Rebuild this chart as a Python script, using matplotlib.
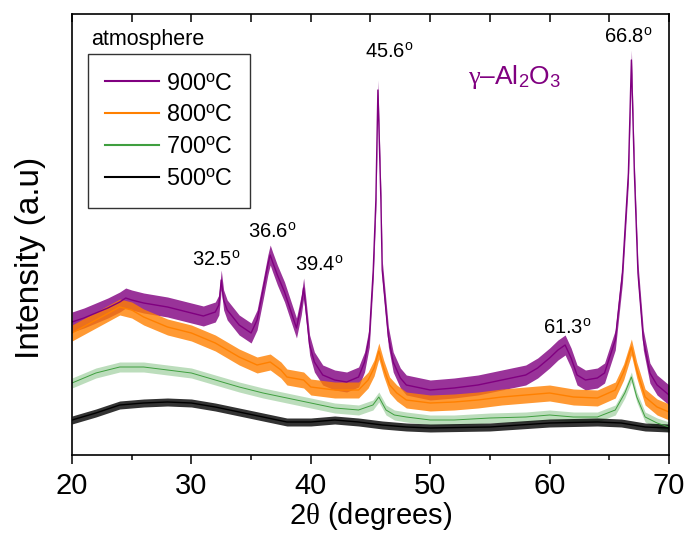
import matplotlib
matplotlib.use("Agg")
import matplotlib.pyplot as plt
import numpy as np

# ---- data (intensity in arbitrary units) ----
two_theta_900 = [20.0, 21.0, 22.0, 23.0, 24.0, 24.5, 25.0, 26.0, 27.0, 28.0, 29.0, 30.0, 31.0, 32.0,
                 32.3, 32.5, 32.7, 33.0, 34.0, 35.0, 35.5, 36.0, 36.4, 36.6, 36.8, 37.2, 37.8, 38.3,
                 38.8, 39.2, 39.4, 39.6, 39.9, 40.3, 41.0, 42.0, 43.0, 44.0, 44.5, 44.9, 45.23, 45.45,
                 45.62, 45.87, 45.98, 46.5, 46.9, 47.5, 48.0, 50.0, 52.0, 54.0, 56.0, 58.0, 59.0, 60.0,
                 60.7, 61.3, 61.8, 62.3, 63.0, 64.0, 64.6, 65.5, 66.1, 66.6, 66.85, 67.1, 67.4, 67.85,
                 68.4, 69.0, 70.0]
intensity_900 = [133, 137, 142, 147, 153, 157, 155, 152, 150, 148, 145, 142, 139, 143,
                 150, 175, 155, 145, 130, 122, 135, 165, 190, 200, 193, 180, 163, 145,
                 127, 150, 167, 145, 110, 93, 80, 75, 73, 78, 93, 118, 185, 255,
                 365, 255, 185, 118, 93, 77, 70, 65, 67, 70, 75, 80, 87, 97,
                 105, 110, 97, 80, 75, 77, 82, 115, 182, 282, 395, 282, 182, 115,
                 82, 70, 60]

two_theta_800 = [20, 22, 24, 25, 26, 28, 30, 32, 34, 35.5, 36.6, 37.5, 38, 39.4, 40, 42, 44, 44.8,
                 45.3, 45.7, 46.1, 46.6, 47.2, 48, 50, 52, 54, 56, 58, 60, 62, 64, 65.5, 66.2,
                 66.85, 67.3, 68, 69, 70]
intensity_800 = [122, 135, 148, 145, 138, 128, 122, 112, 98, 90, 93, 85, 78, 75, 68, 65, 65, 75,
                 87, 104, 87, 70, 62, 55, 52, 53, 55, 58, 60, 62, 58, 57, 65, 83,
                 108, 85, 58, 48, 43]

two_theta_700 = [20, 22, 24, 26, 28, 30, 32, 34, 36, 38, 40, 42, 44, 45.2, 45.7, 46.3, 47, 48, 50,
                 52, 55, 58, 60, 62, 64, 65.5, 66.3, 66.85, 67.3, 68, 69, 70]
intensity_700 = [72, 82, 88, 88, 85, 82, 75, 68, 62, 57, 52, 47, 45, 50, 58, 45, 40, 38, 35,
                 35, 37, 38, 40, 38, 38, 45, 62, 78, 58, 38, 32, 28]

two_theta_500 = [20, 22, 24, 26, 28, 30, 32, 34, 36, 38, 40, 42, 44, 46, 48, 50, 55, 60, 64, 66,
                 68, 70]
intensity_500 = [35, 42, 50, 52, 53, 52, 48, 43, 38, 33, 33, 35, 33, 30, 28, 27, 28, 32, 33, 32,
                 28, 27]

# half-width of the noise band seen around each trace
noise_band = {"900": 10, "800": 8, "700": 5, "500": 4}

series_labels = ["900$^{\\rm o}$C", "800$^{\\rm o}$C", "700$^{\\rm o}$C", "500$^{\\rm o}$C"]
peak_positions = [32.5, 36.6, 39.4, 45.6, 61.3, 66.8]
x_ticks = [20, 30, 40, 50, 60, 70]

# ---- styling ----
plt.rcParams["font.family"] = ["Liberation Sans", "DejaVu Sans"]
plt.rcParams["mathtext.fontset"] = "custom"
plt.rcParams["mathtext.rm"] = "Liberation Sans"
plt.rcParams["mathtext.it"] = "Liberation Serif"
plt.rcParams["mathtext.sf"] = "Liberation Sans"

fig = plt.figure(figsize=(6.87, 5.35), dpi=100)
ax = fig.add_axes([72 / 687, 80 / 535, 597 / 687, 441 / 535])

c900, c800, c700, c500 = "#800080", "#ff8000", "#3f9f3f", "#000000"

specs = [
    (two_theta_900, intensity_900, c900, "900", 1.0, 0.8),
    (two_theta_800, intensity_800, c800, "800", 1.0, 0.8),
    (two_theta_700, intensity_700, c700, "700", 0.7, 0.35),
    (two_theta_500, intensity_500, c500, "500", 1.0, 0.8),
]
handles = []
for x, y, c, key, lw, a in specs:
    x = np.asarray(x, float)
    y = np.asarray(y, float)
    h = noise_band[key]
    ax.fill_between(x, y - h, y + h, color=c, alpha=a, lw=0)
    ln, = ax.plot(x, y, color=c, lw=lw)
    handles.append(ln)

ax.set_xlim(20, 70)
ax.set_ylim(0, 441)
ax.set_yticks([])
ax.set_xticks(x_ticks)
ax.set_xticks([25, 35, 45, 55, 65], minor=True)
ax.tick_params(axis="x", which="major", direction="out", length=6.5, width=1.1,
               labelsize=21, pad=6)
ax.tick_params(axis="x", which="minor", direction="out", length=3.5, width=1.1)
for s in ax.spines.values():
    s.set_linewidth(1.2)

top = ax.secondary_xaxis("top")
top.set_xticks(x_ticks)
top.set_xticks([25, 35, 45, 55, 65], minor=True)
top.tick_params(which="both", direction="in", length=6, width=1.1, labeltop=False)
top.spines["top"].set_visible(False)

ax.set_xlabel("2$\\theta$ (degrees)", fontsize=21, labelpad=0)
ax.set_ylabel("Intensity (a.u)", fontsize=24)
ax.yaxis.set_label_coords(-0.044, 0.447)

leg = ax.legend(handles, series_labels, loc="upper left", bbox_to_anchor=(0.0268, 0.909),
                borderaxespad=0, fontsize=16.8, handlelength=2.3, handletextpad=0.3,
                labelspacing=0.38, borderpad=0.75, fancybox=False, framealpha=1,
                edgecolor="#333333")
leg.get_frame().set_linewidth(1.0)
for lh in leg.get_lines():
    lh.set_linewidth(1.5)

ax.text(21.57, 410, "atmosphere", fontsize=15.5, ha="left", va="baseline")

label_xy = [(32.06, 195), (36.75, 223), (40.69, 190), (46.6, 403), (61.5, 127), (66.57, 418)]
for p, (tx, ty) in zip(peak_positions, label_xy):
    ax.text(tx, ty, f"{p:.1f}$^{{\\rm o}}$", fontsize=14.5, ha="center", va="center")

ax.text(53.17, 371, "$\\gamma$\u2013Al$_2$O$_3$", fontsize=19, color=c900,
        ha="left", va="baseline")

fig.savefig("out.png", dpi=100)
